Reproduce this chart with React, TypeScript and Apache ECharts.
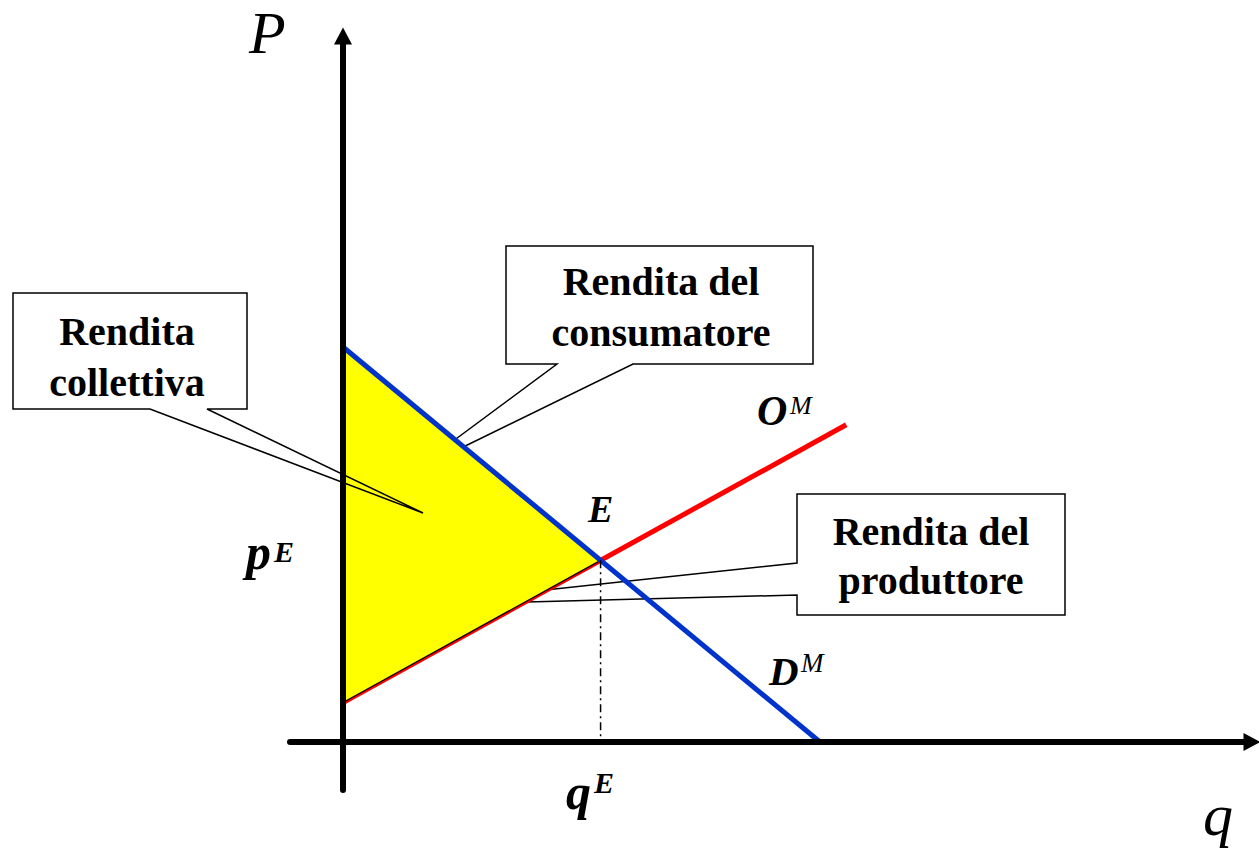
import { useEffect, useRef } from "react";
import * as echarts from "echarts";

// ---- data (model units) ----
const DEMAND: number[][] = [[0, 10], [10, 0]];
const SUPPLY: number[][] = [[0, 1], [10.55, 8.03]];
const EQUILIBRIUM: number[] = [5.4, 4.6];
const SURPLUS_TRIANGLE: number[][] = [[0, 10], EQUILIBRIUM, [0, 1]];
const EQ_DROP: number[][] = [EQUILIBRIUM, [EQUILIBRIUM[0], 0]];

const X_RANGE = [-1.111, 19.057];
const Y_RANGE = [-1.215, 17.873];

const SERIF = '"Liberation Serif", "Times New Roman", serif';

function txt(text: string, x: number, y: number, size: number, opts: any = {}) {
  const align = opts.align || "left";
  return {
    type: "text",
    x,
    y,
    z: 20,
    silent: true,
    style: {
      text,
      fill: "#000",
      fontSize: size,
      fontFamily: SERIF,
      fontWeight: opts.bold ? "bold" : "normal",
      fontStyle: opts.italic ? "italic" : "normal",
      align,
      verticalAlign: "middle",
      textAlign: align,
      textVerticalAlign: "middle",
    },
  };
}

function callout(points: number[][], z: number) {
  return {
    type: "polygon",
    z,
    silent: true,
    shape: { points },
    style: { fill: "none", stroke: "#000", lineWidth: 1.5 },
  };
}

export default function App() {
  const ref = useRef<HTMLDivElement>(null);

  useEffect(() => {
    if (!ref.current) return;
    const chart = echarts.init(ref.current, undefined, { renderer: "svg" });

    const axisCommon = {
      type: "value" as const,
      z: 5,
      axisTick: { show: false },
      axisLabel: { show: false },
      splitLine: { show: false },
      axisLine: {
        show: true,
        onZero: true,
        symbol: ["none", "triangle"],
        symbolSize: [18, 17],
        lineStyle: { color: "#000", width: 6 },
      },
    };

    chart.setOption({
      animation: false,
      backgroundColor: "#fff",
      grid: { left: 290, right: 7, top: 36, bottom: 62 },
      xAxis: { ...axisCommon, min: X_RANGE[0], max: X_RANGE[1] },
      yAxis: { ...axisCommon, min: Y_RANGE[0], max: Y_RANGE[1] },
      series: [
        {
          type: "line",
          name: "O^M",
          data: SUPPLY,
          symbol: "none",
          z: 2,
          silent: true,
          lineStyle: { color: "#ff0000", width: 5 },
        },
        {
          type: "custom",
          name: "Rendita collettiva",
          z: 3,
          silent: true,
          data: [SURPLUS_TRIANGLE[0]],
          renderItem: (_params: any, api: any) => ({
            type: "polygon",
            shape: { points: SURPLUS_TRIANGLE.map((p) => api.coord(p)) },
            style: { fill: "#ffff00", stroke: "#000", lineWidth: 1.2 },
          }),
        },
        {
          type: "line",
          name: "D^M",
          data: DEMAND,
          symbol: "none",
          z: 4,
          silent: true,
          lineStyle: { color: "#0033cc", width: 5 },
        },
        {
          type: "line",
          name: "qE",
          data: EQ_DROP,
          symbol: "none",
          z: 4,
          silent: true,
          lineStyle: { color: "#000", width: 1.5, type: [8, 4, 2, 4] },
        },
      ],
      graphic: {
        elements: [
          // callout outlines
          callout(
            [[13, 293], [247, 293], [247, 409], [207, 409], [423, 513], [150, 409], [13, 409]],
            10
          ),
          callout(
            [[506, 246], [813, 246], [813, 364], [633, 364], [410, 473], [557, 364], [506, 364]],
            1
          ),
          callout(
            [[797, 494], [1065, 494], [1065, 615], [797, 615], [797, 595], [406, 605], [797, 563]],
            1
          ),
          // callout texts
          txt("Rendita", 127, 331.5, 40, { bold: true, align: "center" }),
          txt("collettiva", 127, 382.5, 40, { bold: true, align: "center" }),
          txt("Rendita del", 661, 281.5, 40, { bold: true, align: "center" }),
          txt("consumatore", 661, 332.5, 40, { bold: true, align: "center" }),
          txt("Rendita del", 931, 531.5, 40, { bold: true, align: "center" }),
          txt("produttore", 931, 580.5, 40, { bold: true, align: "center" }),
          // axis titles
          txt("P", 249, 33, 60, { italic: true }),
          txt("q", 1203, 815, 60, { italic: true }),
          // curve labels
          txt("O", 757, 411, 42, { italic: true, bold: true }),
          txt("M", 790, 405, 26, { italic: true }),
          txt("D", 769, 671, 41, { italic: true, bold: true }),
          txt("M", 801, 663, 27, { italic: true }),
          txt("E", 588, 509, 38, { italic: true, bold: true }),
          txt("p", 246, 552, 50, { italic: true, bold: true }),
          txt("E", 274, 551, 30, { italic: true, bold: true }),
          txt("q", 566, 792, 50, { italic: true, bold: true }),
          txt("E", 594, 782, 30, { italic: true, bold: true }),
        ],
      },
    });

    return () => chart.dispose();
  }, []);

  return (
    <div
      ref={ref}
      style={{ position: "fixed", left: 0, top: 0, width: 1259, height: 852, background: "#fff" }}
    />
  );
}
